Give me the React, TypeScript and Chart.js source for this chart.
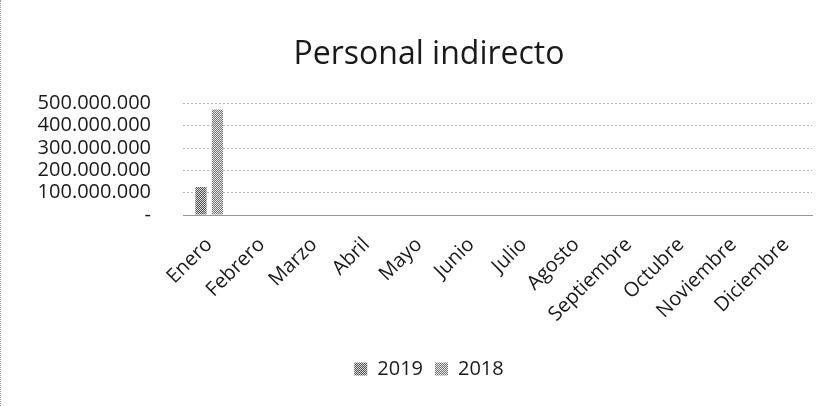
import React, { useEffect, useRef } from "react";
import { Chart, registerables } from "chart.js";

Chart.register(...registerables);

const categories = ["Enero", "Febrero", "Marzo", "Abril", "Mayo", "Junio", "Julio", "Agosto", "Septiembre", "Octubre", "Noviembre", "Diciembre"];
const series2019 = [125000000, 0, 0, 0, 0, 0, 0, 0, 0, 0, 0, 0];
const series2018 = [473000000, 0, 0, 0, 0, 0, 0, 0, 0, 0, 0, 0];
const yTicks = [0, 100000000, 200000000, 300000000, 400000000, 500000000];

const fmt = (v: number) => (v === 0 ? "-" : Math.round(v).toString().replace(/\B(?=(\d{3})+(?!\d))/g, "."));

function makePattern(dark: string, light: string) {
  const c = document.createElement("canvas");
  c.width = 4;
  c.height = 4;
  const g = c.getContext("2d")!;
  g.fillStyle = light;
  g.fillRect(0, 0, 4, 4);
  g.fillStyle = dark;
  const pts = [[0, 0], [2, 0], [1, 1], [3, 1], [0, 2], [2, 2], [3, 3], [1, 3]];
  pts.forEach(([x, y]) => g.fillRect(x, y, 1, 1));
  const ctx = document.createElement("canvas").getContext("2d")!;
  return ctx.createPattern(c, "repeat")!;
}

export default function App() {
  const ref = useRef<HTMLCanvasElement>(null);
  useEffect(() => {
    document.body.style.margin = "0";
    const font = "'Open Sans', Calibri, sans-serif";
    const p2019 = makePattern("#555555", "#d8d8d8");
    const p2018 = makePattern("#777777", "#e4e4e4");
    const chart = new Chart(ref.current!, {
      type: "bar",
      data: {
        labels: categories,
        datasets: [
          { label: "2019", data: series2019, backgroundColor: p2019, borderWidth: 0, categoryPercentage: 0.63, barPercentage: 0.68 },
          { label: "2018", data: series2018, backgroundColor: p2018, borderWidth: 0, categoryPercentage: 0.63, barPercentage: 0.68 },
        ],
      },
      options: {
        animation: false,
        responsive: false,
        maintainAspectRatio: false,
        layout: { padding: { left: 23, right: 0, top: 0, bottom: 17 } },
        plugins: {
          title: {
            display: true,
            text: "Personal indirecto",
            color: "#1a1a1a",
            font: { family: font, size: 32, weight: "normal", lineHeight: 1.2 },
            padding: { top: 36, bottom: 29 },
          },
          legend: {
            position: "bottom",
            labels: {
              color: "#1a1a1a",
              font: { family: font, size: 20 },
              boxWidth: 13,
              boxHeight: 13,
              padding: 12,
            },
          },
          tooltip: { enabled: false },
        },
        scales: {
          x: {
            afterFit: (axis: any) => {
              axis.height = 132;
            },
            grid: { display: false },
            border: { display: true, color: "#999", dash: [2, 2] },
            ticks: {
              color: "#1a1a1a",
              font: { family: font, size: 20 },
              minRotation: 45,
              maxRotation: 45,
              autoSkip: false,
              padding: 10,
            },
          },
          y: {
            min: 0,
            max: 500000000,
            afterFit: (axis: any) => {
              axis.width = 159;
            },
            afterBuildTicks: (axis: any) => {
              axis.ticks = yTicks.map((v) => ({ value: v }));
            },
            grid: { color: "#b5b5b5", drawTicks: false },
            border: { display: false, dash: [2, 2] },
            ticks: {
              color: "#1a1a1a",
              font: { family: font, size: 20 },
              padding: 32,
              autoSkip: false,
              callback: (v: any) => fmt(Number(v)),
            },
          },
          yRight: {
            position: "right",
            display: true,
            afterFit: (axis: any) => {
              axis.width = 22;
            },
            grid: { display: false, drawTicks: false },
            border: { display: false },
            ticks: { display: false },
          },
        },
      } as any,
    });
    return () => chart.destroy();
  }, []);
  return (
    <div style={{ width: 834, height: 406, position: "relative", borderLeft: "1px dotted #999", boxSizing: "border-box", background: "#fff" }}>
      <canvas ref={ref} width={833} height={406} style={{ display: "block" }} />
    </div>
  );
}
